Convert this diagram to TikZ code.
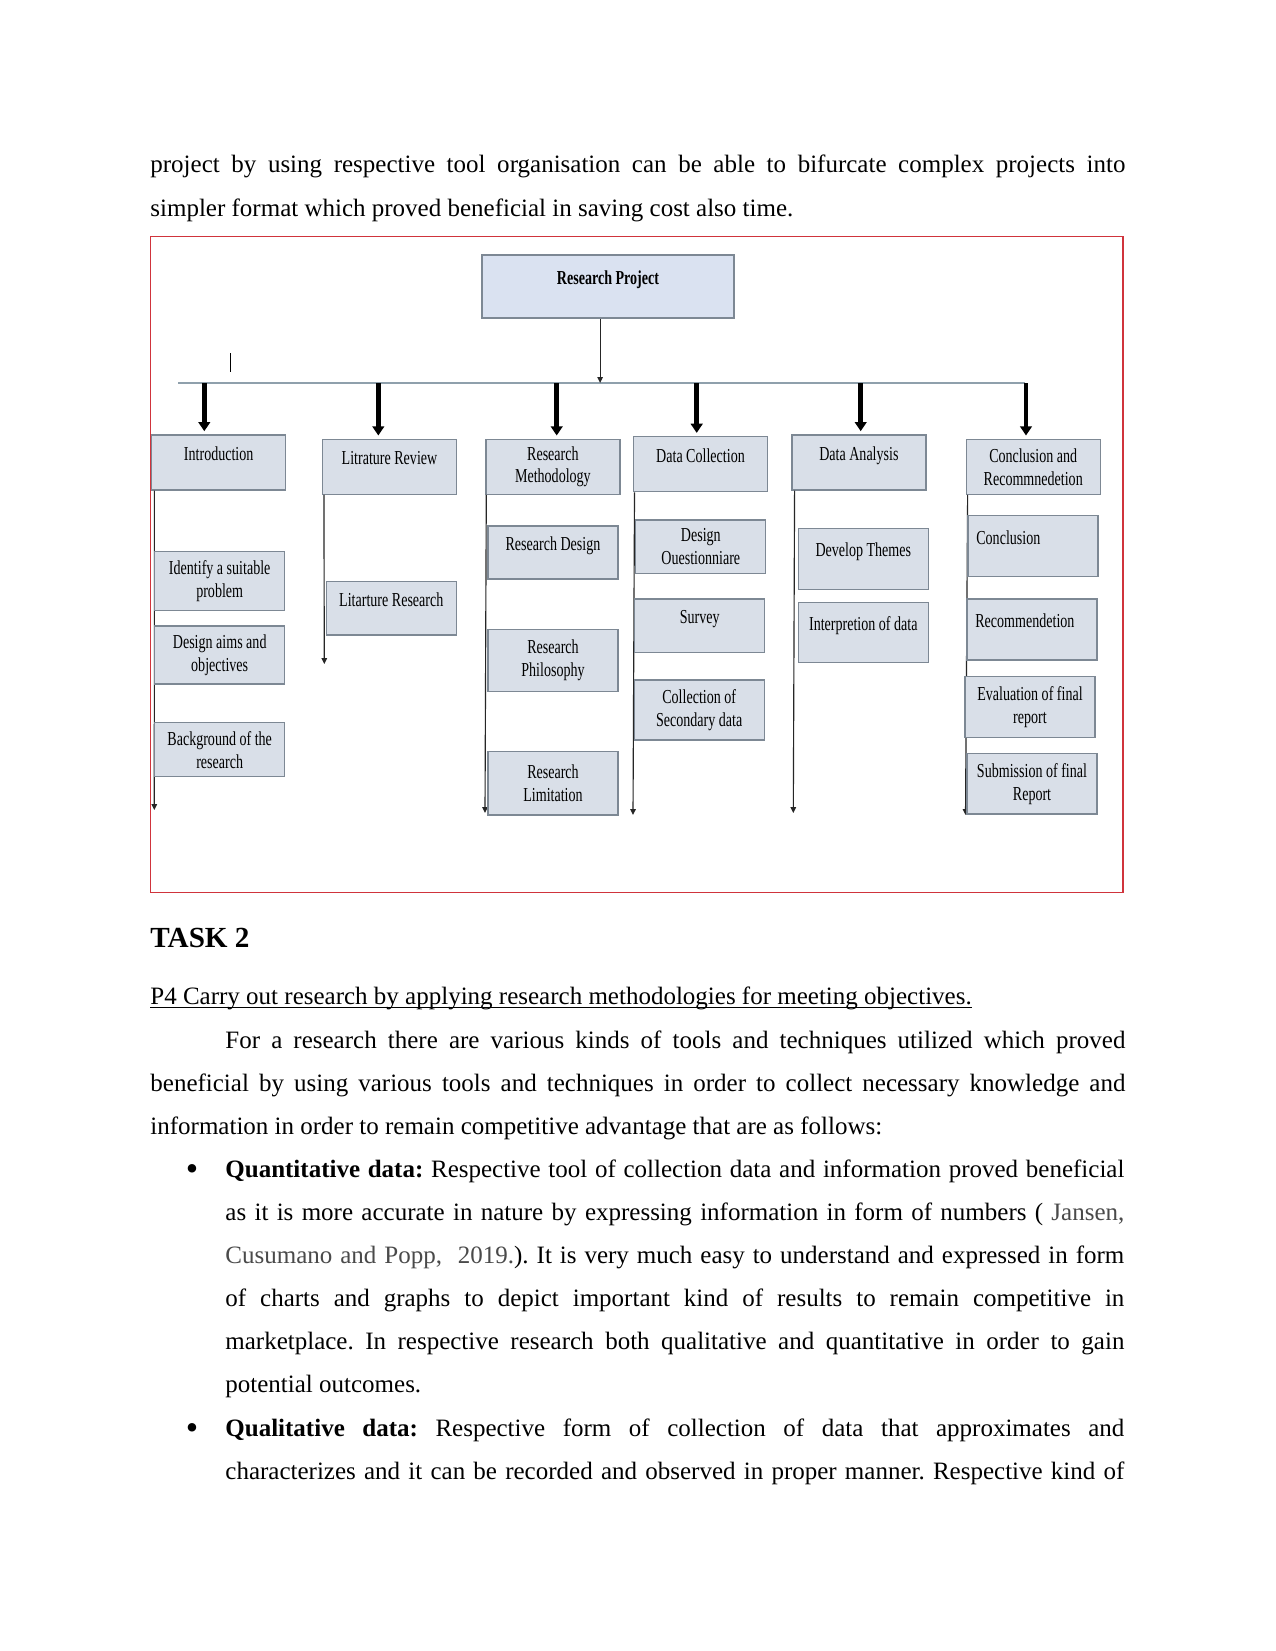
\documentclass[tikz,border=0pt]{standalone}
\usepackage{fontspec}
\setmainfont{Liberation Serif}
\newfontfamily\chartfont{Liberation Serif}[FakeStretch=0.71]
\usetikzlibrary{arrows.meta,calc}
\definecolor{BoxFill}{HTML}{D9DFE8}
\definecolor{TopFill}{HTML}{DAE2F1}
\definecolor{BoxEdge}{HTML}{7D8894}
\definecolor{BusLine}{HTML}{8FA0AC}
\definecolor{FrameRed}{HTML}{D0343C}
\definecolor{CiteGray}{HTML}{4A4A4A}
\frenchspacing
% full lines are spread to the measure, last lines are not
\newlength\bodywd \setlength\bodywd{468pt}
\newlength\itemwd \setlength\itemwd{431.5pt}
\newcommand\fillline[1]{\hbox to \hsize{#1}}
\newcommand\lastline[1]{\hbox{#1}}
\newcommand\textblock[2]{\vtop{\hsize=#1\relax #2}}

\begin{document}
\begin{tikzpicture}[x=0.48pt, y=-0.48pt,
  body/.style={anchor=base west, inner sep=0pt,
    font=\fontsize{12}{20.7}\selectfont},
  box/.style={draw=BoxEdge, line width=0.65pt, fill=BoxFill, inner sep=2pt,
    align=center, font=\chartfont\fontsize{9.5}{11}\selectfont},
  topbox/.style={box, fill=TopFill, minimum width=121pt, minimum height=30.2pt},
  headbox/.style={box, minimum width=64.3pt, minimum height=26.4pt},
  sub/.style={box, minimum width=62.4pt, minimum height=25.6pt},
  lifted/.style={text height=7pt, text depth=8.8pt},
  leftbox/.style={align=left, text width=54.4pt, inner xsep=4pt},
  thinarr/.style={draw=black!85, line width=0.55pt, -{Triangle[width=2.6pt,length=2.8pt]}},
  fatarr/.style={line width=2.2pt, -{Triangle[width=5.6pt,length=4.4pt]}, shorten >=1.5pt},
  bus/.style={draw=BusLine, line width=0.6pt},
  dot/.style={anchor=base, inner sep=0pt, font=\fontsize{17}{17}\selectfont}]
  \fill[white] (0,0) rectangle (1275,1651);
  \useasboundingbox (0,0) rectangle (1275,1651);

  % text above the chart
  \node[body] (para1) at (150,173) {\textblock{\bodywd}{%
    \fillline{project by using respective tool organisation can be able to bifurcate complex projects into}
    \lastline{simpler format which proved beneficial in saving cost also time.}}};

  % chart frame
  \draw[FrameRed, line width=0.65pt] (150.7,236.7) rectangle (1123,892.7);

  % root and bus
  \node[topbox, lifted] (rp) at (608,286.5) {\textbf{Research Project}};
  \coordinate (busL) at (178,383);
  \coordinate (busR) at (1025,383);
  \draw[bus] (busL) -- (busR);
  \draw[thinarr] ([xshift=-3.8pt]rp.south) -- ([xshift=-3.8pt]rp.south |- busL);
  \draw[line width=0.6pt] (230.7,353) -- (230.7,372);

  % main stages
  \node[headbox, lifted] (intro) at (218.7,462.5) {Introduction};
  \node[headbox, lifted] (litrev) at (389.5,466.8) {Litrature Review};
  \node[headbox] (resmeth) at (552.9,466.8) {Research\\Methodology};
  \node[headbox, lifted] (datacol) at (700.5,464.2) {Data Collection};
  \node[headbox, lifted] (dataan) at (858.9,462.5) {Data Analysis};
  \node[headbox] (concrec) at (1033.2,466.8) {Conclusion and\\Recommnedetion};

  \foreach \bx/\tgt in {204.3/intro, 378.3/litrev, 556.7/resmeth,
      696.7/datacol, 860.7/dataan, 1026/concrec}{
    \coordinate (\tgt-tap) at (\bx,0 |- busL);
    \draw[fatarr] (\tgt-tap) -- (\tgt-tap |- \tgt.north);
  }

  % column lines
  \foreach \col/\dx/\ex/\ey in {intro/1.6/154.3/810, litrev/1/324.3/664,
      resmeth/0.5/485/813, datacol/0.8/633/815, dataan/1.6/793.3/813,
      concrec/1/965.5/815}{
    \coordinate (\col-end) at (\ex,\ey);
    \draw[thinarr] ([xshift=\dx pt]\col.south west) -- (\col-end);
  }

  % Introduction
  \node[sub, minimum height=28.3pt] (identify) at (219.7,581.2) {Identify a suitable\\problem};
  \node[sub, minimum height=27.8pt] (aims) at (219.7,655) {Design aims and\\objectives};
  \node[sub, minimum height=25.9pt] (backg) at (219.7,749.7) {Background of the\\research};
  % Literature
  \node[sub, lifted] (litres) at (391.3,608.3) {Litarture Research};
  % Methodology
  \node[sub, lifted] (resdes) at (553,552.5) {Research Design};
  \node[sub, minimum height=30pt] (resphil) at (553,660.5) {Research\\Philosophy};
  \node[sub, minimum height=30.4pt] (reslim) at (553,783.3) {Research\\Limitation};
  % Data collection
  \node[sub] (quest) at (700.8,546.7) {Design\\Ouestionniare};
  \node[sub, lifted] (survey) at (699.7,625.7) {Survey};
  \node[sub, minimum height=28.8pt] (seccol) at (699.2,710) {Collection of\\Secondary data};
  % Data analysis
  \node[sub, lifted, minimum height=29.3pt] (themes) at (863.3,558.8) {Develop Themes};
  \node[sub, lifted, minimum height=29pt] (interp) at (863.3,632.5) {Interpretion of data};
  % Conclusion
  \node[sub, lifted, leftbox, minimum height=29.3pt] (concl) at (1033,546.2) {Conclusion};
  \node[sub, lifted, leftbox, minimum height=29.3pt] (recom) at (1032,629.5) {Recommendetion};
  \node[sub, minimum height=29.3pt] (evalr) at (1030,707.2) {Evaluation of final\\report};
  \node[sub, minimum height=29.1pt] (submit) at (1032,783.7) {Submission of final\\Report};

  % text below the chart
  \node[body, font=\fontsize{14}{16}\selectfont\bfseries] (task) at (150,947) {TASK 2};
  \node[body] (p4head) at (150,1004) {P4 Carry out research by applying research methodologies for meeting objectives.};
  \draw[line width=0.6pt] ([yshift=-1.5pt]p4head.base west) -- ([yshift=-1.5pt]p4head.base east);
  \node[body] (para2) at (150,1048) {\textblock{\bodywd}{%
    \fillline{\hspace*{36pt}For a research there are various kinds of tools and techniques utilized which proved}
    \fillline{beneficial by using various tools and techniques in order to collect necessary knowledge and}
    \lastline{information in order to remain competitive advantage that are as follows:}}};

  \node[dot] (bul1) at (192,1180) {\textbullet};
  \node[body] (quant) at (225,1177) {\textblock{\itemwd}{%
    \fillline{\textbf{Quantitative data:} Respective tool of collection data and information proved beneficial}
    \fillline{as it is more accurate in nature by expressing information in form of numbers ( \textcolor{CiteGray}{Jansen,}}
    \fillline{\textcolor{CiteGray}{Cusumano and Popp,\ \ 2019.}). It is very much easy to understand and expressed in form}
    \fillline{of charts and graphs to depict important kind of results to remain competitive in}
    \fillline{marketplace. In respective research both qualitative and quantitative in order to gain}
    \lastline{potential outcomes.}}};
  \node[dot] (bul2) at (192,1439) {\textbullet};
  \node[body] (qual) at (225,1436) {\textblock{\itemwd}{%
    \fillline{\textbf{Qualitative data:} Respective form of collection of data that approximates and}
    \fillline{characterizes and it can be recorded and observed in proper manner. Respective kind of}}};
\end{tikzpicture}
\end{document}
